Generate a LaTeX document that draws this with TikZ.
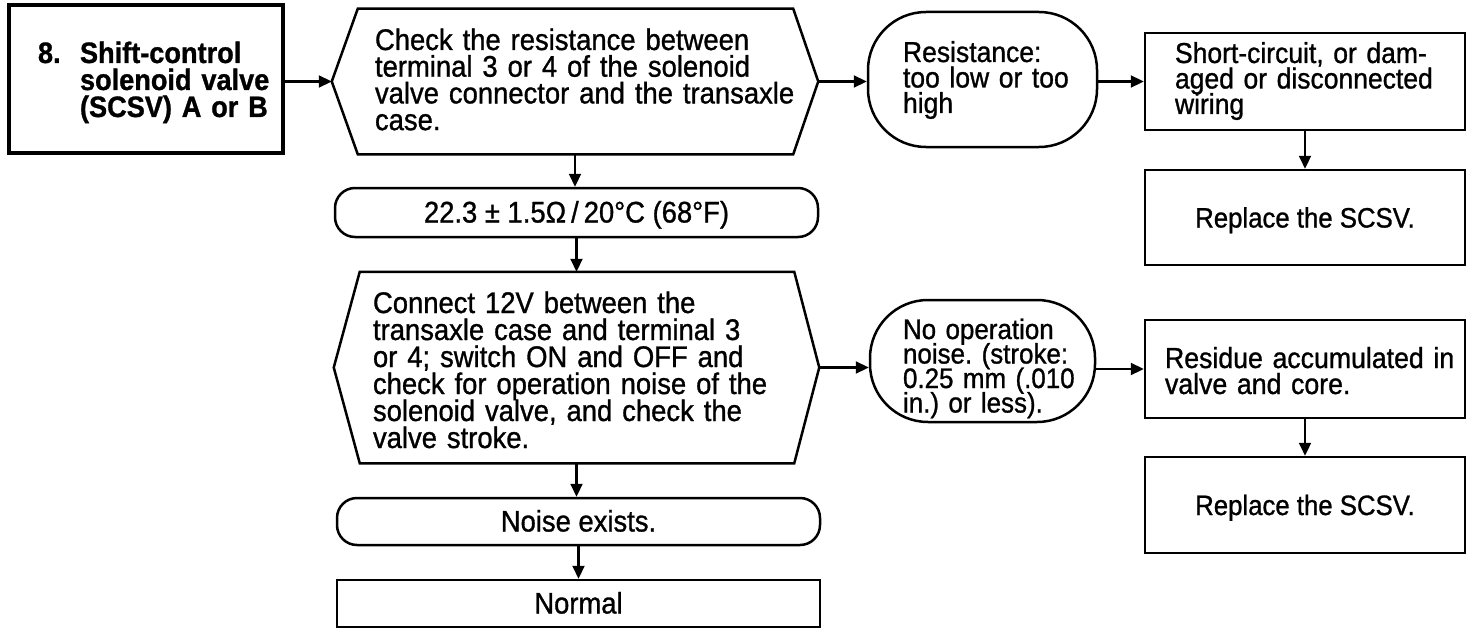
\documentclass[tikz,border=0pt]{standalone}
\usepackage{fontspec}
\setmainfont{Liberation Sans}[FakeStretch=0.92,FakeBold=1]
\usetikzlibrary{arrows.meta}
\frenchspacing
\newcommand\mainfs{\fontsize{29.8pt}{27pt}\selectfont}
\tikzset{
  shp/.style={inner sep=0pt, line width=2.5pt, font=\mainfs},
  boxnode/.style={shp, draw, rectangle},
  rbox/.style={shp, draw, rectangle, rounded corners=20pt},
  oval/.style={shp, draw, rectangle, rounded corners=58pt},
  hexnode/.style={shp, rectangle},
  single/.style={text height=20pt, text depth=0pt},
  bskip/.style={execute at begin node={\setlength{\baselineskip}{#1}\lineskiplimit=-100pt\relax}},
  arr/.style={line width=2.2pt, -{Triangle[length=13pt,width=12pt]}},
  hexline/.style={line width=2.5pt, line join=miter}
}
\begin{document}
\begin{tikzpicture}[x=1pt,y=-1pt]
\useasboundingbox (0,0) rectangle (1472,634);

\node[boxnode, line width=3.2pt, minimum width=274pt, minimum height=148pt,
  text width=216pt, align=left, text height=20pt, text depth=52pt, bskip=27pt,
  font=\bfseries\fontsize{29.5pt}{27pt}\selectfont] (b1) at (146,79)
  {\mbox{\makebox[42pt][l]{8.}Shift-control}\\\mbox{\hspace*{42pt}solenoid valve}\\\mbox{\hspace*{42pt}(SCSV) A or B}};

\node[hexnode, minimum width=484pt, minimum height=143pt, text width=400pt, bskip=26.7pt,
  align=left, text height=20pt, text depth=83pt] (h1) at (575,81.5)
  {\mbox{Check the resistance between}\\\mbox{terminal 3 or 4 of the solenoid}\\\mbox{valve connector and the transaxle}\\\mbox{case.}};

\node[rbox, single, minimum width=483pt, minimum height=49pt] (r1) at (576.5,212.5)
  {22.3 ± 1.5Ω\,/\,20°C (68°F)};

\node[hexnode, minimum width=483pt, minimum height=189pt, text width=407pt, bskip=27pt,
  align=left, text height=20pt, text depth=129pt] (h2) at (576.5,367.5)
  {\mbox{Connect 12V between the}\\\mbox{transaxle case and terminal 3}\\\mbox{or 4; switch ON and OFF and}\\\mbox{check for operation noise of the}\\\mbox{solenoid valve, and check the}\\\mbox{valve stroke.}};

\node[rbox, single, minimum width=483pt, minimum height=47pt] (r2) at (578.5,521.5) {Noise exists.};
\node[boxnode, single, minimum width=483pt, minimum height=47pt] (n1) at (578.5,603.5) {Normal};

\node[oval, minimum width=229pt, minimum height=135pt, text width=159pt, align=left, bskip=25.5pt,
  font=\fontsize{28.8pt}{25.5pt}\selectfont, text height=20pt, text depth=55pt] (e1) at (982.5,79.5)
  {\mbox{Resistance:}\\\mbox{too low or too}\\\mbox{high}};

\node[oval, minimum width=225pt, minimum height=122pt, text width=159pt, align=left, bskip=24.5pt,
  font=\fontsize{28.2pt}{24.5pt}\selectfont, text height=20pt, text depth=64pt] (e2) at (982.5,361)
  {\mbox{No operation}\\\mbox{noise. (stroke:}\\\mbox{0.25 mm (.010}\\\mbox{in.) or less).}};

\node[boxnode, minimum width=320pt, minimum height=97pt, text width=260pt, align=left, bskip=25.5pt,
  font=\fontsize{28.8pt}{25.5pt}\selectfont, text height=20pt, text depth=57pt] (s1) at (1305,81.5)
  {\mbox{Short-circuit, or dam-}\\\mbox{aged or disconnected}\\\mbox{wiring}};

\node[boxnode, single, minimum width=320pt, minimum height=95pt,
  font=\fontsize{28pt}{27pt}\selectfont] (p1) at (1305,217.5) {Replace the SCSV.};

\node[boxnode, minimum width=320pt, minimum height=98pt, text width=280pt, align=left, bskip=26pt,
  font=\fontsize{29pt}{26pt}\selectfont, text height=20pt, text depth=22pt] (s2) at (1305,369)
  {\mbox{Residue accumulated in}\\\mbox{valve and core.}};

\node[boxnode, single, minimum width=320pt, minimum height=96pt,
  font=\fontsize{28pt}{27pt}\selectfont] (p2) at (1305,505) {Replace the SCSV.};

% hexagon outlines
\draw[hexline] ([xshift=26pt]h1.north west) -- ([xshift=-25pt]h1.north east) -- (h1.east)
  -- ([xshift=-25pt]h1.south east) -- ([xshift=26pt]h1.south west) -- (h1.west) -- cycle;
\draw[hexline] ([xshift=26pt]h2.north west) -- ([xshift=-25pt]h2.north east) -- (h2.east)
  -- ([xshift=-25pt]h2.south east) -- ([xshift=26pt]h2.south west) -- (h2.west) -- cycle;

% connectors
\draw[arr] (b1.east |- h1.west) -- (h1.west);
\draw[arr] (h1.east) -- (h1.east -| e1.west);
\draw[arr] (e1.east |- s1.west) -- (s1.west);
\draw[arr] (s1.south) -- (p1.north);
\draw[arr] (h1.south) -- (h1.south |- r1.north);
\draw[arr] (r1.south) -- (r1.south |- h2.north);
\draw[arr] (h2.south) -- (h2.south |- r2.north);
\draw[arr] (r2.south) -- (r2.south |- n1.north);
\draw[arr] (h2.east) -- (h2.east -| e2.west);
\draw[arr] (e2.east |- s2.west) -- (s2.west);
\draw[arr] (s2.south) -- (p2.north);
\end{tikzpicture}
\end{document}
